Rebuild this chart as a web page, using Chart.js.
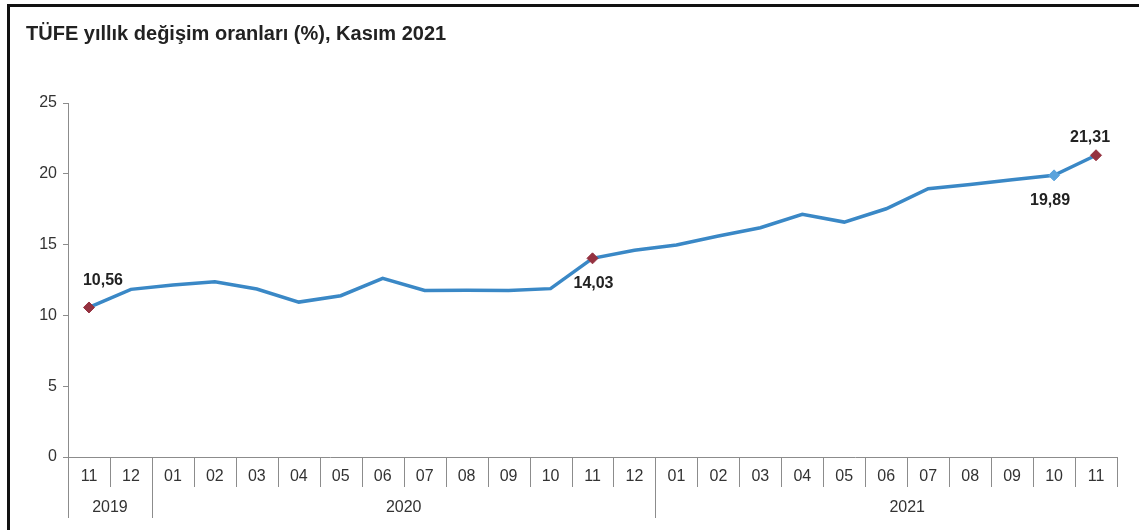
<!DOCTYPE html>
<html>
<head>
<meta charset="utf-8">
<script src="https://cdn.jsdelivr.net/npm/chart.js@4"></script>
<style>
  html, body { margin: 0; padding: 0; background: #fff; }
  #wrap { position: relative; width: 1139px; height: 530px; overflow: hidden; }
  #frame { position: absolute; left: 7px; top: 4px; right: -10px; bottom: -10px;
           border-top: 3px solid #111; border-left: 3px solid #111; }
  #title { position: absolute; left: 26px; top: 22px; line-height: 23px;
           font: bold 20px "Liberation Sans", Arial, sans-serif; color: #222; }
  canvas { position: absolute; left: 0; top: 0; }
</style>
</head>
<body>
<div id="wrap">
  <canvas id="grafik" width="1139" height="530"></canvas>
  <div id="frame"></div>
  <div id="title">TÜFE yıllık değişim oranları (%), Kasım 2021</div>
</div>
<script>
var aylar = ['11', '12', '01', '02', '03', '04', '05', '06', '07', '08', '09', '10', '11', '12',
             '01', '02', '03', '04', '05', '06', '07', '08', '09', '10', '11'];
var yillar = ['2019', '2020', '2021'];
var tufe = [10.56, 11.84, 12.15, 12.37, 11.86, 10.94, 11.39, 12.62, 11.76, 11.77, 11.75, 11.89, 14.03, 14.60,
            14.97, 15.61, 16.19, 17.14, 16.59, 17.53, 18.95, 19.25, 19.58, 19.89, 21.31];
var vurgular = [0, 12, 23, 24];
var vurguYon = ['ust', 'alt', 'alt', 'ust'];
var vurguRenk = ['#953240', '#953240', '#5aa3dc', '#953240'];

var yaziTipi = '"Liberation Sans", Arial, sans-serif';
var griCizgi = '#8c8c8c';

function noktaYaricap(ctx) {
    return vurgular.indexOf(ctx.dataIndex) >= 0 ? 5.5 : 0;
}
function noktaRenk(ctx) {
    var k = vurgular.indexOf(ctx.dataIndex);
    return k >= 0 ? vurguRenk[k] : '#3a88c6';
}

// ay ve yil satirlari (Excel tarzi cok seviyeli eksen)
var eksenCizim = {
    id: 'eksenCizim',
    afterDraw: function(chart) {
        var c = chart.ctx;
        var x = chart.scales.x;
        var alt = chart.chartArea.bottom;
        var w = x.getPixelForValue(1) - x.getPixelForValue(0);
        c.save();
        c.strokeStyle = griCizgi;
        c.lineWidth = 1;
        for (var i = 0; i <= aylar.length; i++) {
            var px = Math.round(x.getPixelForValue(i) - w / 2) + 0.5;
            c.beginPath();
            c.moveTo(px, alt);
            c.lineTo(px, alt + 30);
            c.stroke();
        }
        var baslangic = [0];
        for (var j = 1; j < aylar.length; j++) {
            if (aylar[j] === '01') baslangic.push(j);
        }
        c.fillStyle = '#333';
        c.font = '16px ' + yaziTipi;
        c.textAlign = 'center';
        c.textBaseline = 'middle';
        for (var g = 0; g < baslangic.length; g++) {
            var bas = baslangic[g];
            var son = g + 1 < baslangic.length ? baslangic[g + 1] - 1 : aylar.length - 1;
            var sx = Math.round(x.getPixelForValue(bas) - w / 2) + 0.5;
            c.beginPath();
            c.moveTo(sx, alt + 30);
            c.lineTo(sx, alt + 61);
            c.stroke();
            var orta = aylar[bas] === '01' ? bas + 5.5 : (bas + son) / 2;
            c.fillText(yillar[g], x.getPixelForValue(orta), alt + 51);
        }
        c.restore();
    }
};

var degerEtiket = {
    id: 'degerEtiket',
    afterDatasetsDraw: function(chart) {
        var c = chart.ctx;
        var meta = chart.getDatasetMeta(0);
        c.save();
        c.fillStyle = '#222';
        c.font = 'bold 16px ' + yaziTipi;
        c.textAlign = 'center';
        c.textBaseline = 'middle';
        vurgular.forEach(function(idx, k) {
            var p = meta.data[idx];
            var metin = tufe[idx].toFixed(2).replace('.', ',');
            var dx = k === 0 ? 14 : (k === 2 ? -4 : (k === 3 ? -6 : 1));
            var dy = vurguYon[k] === 'ust' ? (k === 0 ? -27 : -18) : 25;
            c.fillText(metin, p.x + dx, p.y + dy);
        });
        c.restore();
    }
};

new Chart(document.getElementById('grafik').getContext('2d'), {
    type: 'line',
    data: {
        labels: aylar,
        datasets: [{
            label: 'TÜFE',
            data: tufe,
            borderColor: '#3a88c6',
            borderWidth: 3.5,
            tension: 0,
            pointStyle: 'rectRot',
            pointRadius: noktaYaricap,
            pointHoverRadius: noktaYaricap,
            pointBackgroundColor: noktaRenk,
            pointBorderColor: noktaRenk,
            pointBorderWidth: 1
        }]
    },
    options: {
        responsive: false,
        animation: false,
        layout: { padding: { left: 0, top: 103, right: 22, bottom: 0 } },
        plugins: { legend: { display: false }, tooltip: { enabled: false }, title: { display: false } },
        scales: {
            x: {
                offset: true,
                grid: { display: false, drawTicks: false },
                border: { display: true, color: griCizgi, width: 1 },
                ticks: { padding: 10, color: '#333', font: { family: yaziTipi, size: 16 }, maxRotation: 0, autoSkip: false },
                afterFit: function(s) { s.height = 73; }
            },
            y: {
                min: 0,
                max: 25,
                ticks: { stepSize: 5, padding: 6, color: '#333', font: { family: yaziTipi, size: 16 } },
                grid: { drawOnChartArea: false, drawTicks: true, tickLength: 5, color: griCizgi },
                border: { display: true, color: griCizgi, width: 1 },
                afterFit: function(s) { s.width = 68; }
            }
        }
    },
    plugins: [eksenCizim, degerEtiket]
});
</script>
</body>
</html>
